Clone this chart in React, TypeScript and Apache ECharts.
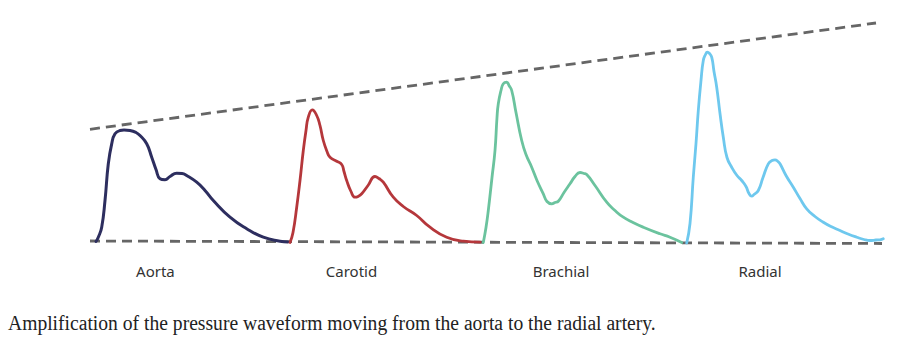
import React, { useEffect, useRef } from "react";
import * as echarts from "echarts";

// x: horizontal position (time-like units), y: pressure height above baseline
const aorta: number[][] = [
  [96, 1], [98.3, 5.3], [101.7, 15.3], [105, 42], [108.3, 78.7], [111.7, 98.7], [115, 108.7],
  [120, 112], [124, 112.5], [130, 112], [136, 110], [140, 107], [146.7, 98.7], [151.7, 85.3],
  [156, 73], [160, 63.7], [165, 62.7], [170, 66], [176.7, 69.3], [182, 69], [186.7, 67],
  [196.7, 60.3], [205, 52], [213.3, 42], [230, 25.3], [246.7, 13.7], [263.3, 5.3], [280, 1.3], [288, 0.5],
];
const carotid: number[][] = [
  [290, 0], [293, 10], [296.7, 35.3], [300, 62], [303.3, 92], [306, 112], [308.3, 125.3],
  [312.3, 132.7], [316.7, 127], [320, 117], [323.3, 102], [327, 91], [330, 85.3], [336.7, 81.3],
  [341.7, 78], [344, 71], [346.7, 62], [351, 51], [355, 45.3], [358, 46], [361.7, 48.7], [368, 57],
  [375, 66], [379, 64], [383.3, 60.3], [393.3, 45.3], [403.3, 36], [416.7, 27], [430, 15.3],
  [446.7, 5.3], [463.3, 1.3], [480, 0.3],
];
const brachial: number[][] = [
  [483.3, 0], [486, 15], [488.3, 32], [492, 65], [495, 92], [497, 125], [498.3, 138.7], [501, 152],
  [503.3, 158.7], [506.7, 160.3], [509, 157], [511.7, 152], [516, 130], [521.7, 102], [526, 88],
  [531.7, 75.3], [537, 62], [543.3, 48.7], [547, 41], [551.7, 38.7], [555, 40], [558.3, 41.3],
  [564, 50], [570, 58.7], [575, 66], [580, 70], [584, 69], [586.7, 68], [595, 57], [606.7, 40.3],
  [615, 32], [623.3, 25.3], [633, 20], [643.3, 15.3], [660, 8.7], [670, 5.3], [681.7, 0],
];
const radial: number[][] = [
  [686.7, -0.5], [690, 19], [693.3, 65.5], [696, 99], [698.3, 132], [701, 162], [703.3, 182],
  [705.5, 188], [707.3, 190.3], [709.5, 189], [711.7, 185.3], [714, 171], [716.7, 155.3], [720, 129],
  [723.3, 105.3], [727, 85], [731.7, 75.3], [737, 67], [741.7, 62], [746, 56], [749, 49],
  [751.7, 46.3], [754, 48], [758.3, 52], [763, 65], [768.3, 78.7], [772, 82], [775, 82.7], [778, 81],
  [780, 78.7], [786, 67], [793.3, 55.3], [800, 44], [806.7, 33.7], [815, 26], [823.3, 20.3],
  [831, 16], [840, 12], [848, 8.5], [856.7, 5.3], [864, 3], [870, 2], [876, 2.5], [880, 2.7], [883.3, 3.7],
];
const topEnvelope: number[][] = [[90, 113.2], [876, 219.5]];
const baseEnvelope: number[][] = [[90, 1.5], [882, -1]];

const labels = ["Aorta", "Carotid", "Brachial", "Radial"];
const labelPos = [155.4, 351.5, 561, 760];
const caption = "Amplification of the pressure waveform moving from the aorta to the radial artery.";

const colors = ["#2d2e5f", "#b5373b", "#6bc39e", "#6ec8ee"];
const waves = [aorta, carotid, brachial, radial];

export default function App() {
  const ref = useRef<HTMLDivElement>(null);
  useEffect(() => {
    if (!ref.current) return;
    const chart = echarts.init(ref.current, undefined, { renderer: "svg" });
    const dashStyle = { color: "#666666", width: 2.8, type: [10, 6] as any };
    chart.setOption({
      animation: false,
      backgroundColor: "#ffffff",
      grid: { left: 0, right: 0, top: 0, bottom: 0 },
      xAxis: { type: "value", min: 0, max: 900, show: false },
      yAxis: { type: "value", min: -108.5, max: 242.5, show: false },
      series: [
        {
          type: "line", data: topEnvelope, symbol: "none", lineStyle: dashStyle, silent: true,
        },
        {
          type: "line", data: baseEnvelope, symbol: "none", lineStyle: dashStyle, silent: true,
        },
        ...waves.map((w, i) => ({
          type: "line",
          name: labels[i],
          data: w,
          symbol: "none",
          smooth: 0.5,
          lineStyle: { color: colors[i], width: i === 0 ? 3 : 2.8, cap: "round", join: "round" },
          z: 3,
        })),
      ],
      graphic: [
        ...labels.map((t, i) => ({
          type: "text",
          x: labelPos[i],
          y: 270.5,
          style: {
            text: t,
            x: 0,
            y: 0,
            align: "center",
            verticalAlign: "middle",
            fontFamily: "Noto Sans",
            fontSize: 15,
            fill: "#333333",
          },
        })),
        {
          type: "text",
          x: 8,
          y: 322.5,
          scaleY: 1.1,
          style: {
            text: caption,
            x: 0,
            y: 0,
            align: "left",
            verticalAlign: "middle",
            fontFamily: "Liberation Serif",
            fontSize: 19.6,
            fill: "#222222",
          },
        },
      ],
    });
    return () => chart.dispose();
  }, []);
  return (
    <div
      ref={ref}
      style={{ position: "absolute", left: 0, top: 0, width: 900, height: 351 }}
    />
  );
}
